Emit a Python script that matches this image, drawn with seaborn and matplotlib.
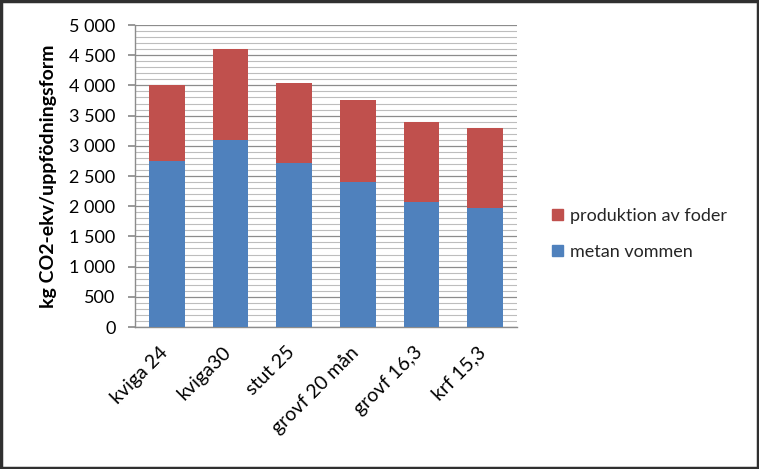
import matplotlib
matplotlib.use("Agg")
import matplotlib.pyplot as plt
import matplotlib.transforms as mtransforms
import seaborn as sns
import pandas as pd
from matplotlib.patches import Patch, Rectangle
from matplotlib.ticker import FuncFormatter, MultipleLocator

categories = ["kviga 24", "kviga30", "stut 25", "grovf 20 mån", "grovf 16,3", "krf 15,3"]
metan = [2750, 3100, 2715, 2405, 2075, 1975]
foder = [1250, 1500, 1325, 1355, 1320, 1320]
series_names = ["metan vommen", "produktion av foder"]

blue = "#4F81BD"
red = "#C0504D"

sns.set_theme(style="white")
plt.rcParams['font.family'] = ['Lato', 'DejaVu Sans']

df = pd.DataFrame({"cat": categories, "metan": metan,
                   "total": [m + f for m, f in zip(metan, foder)]})

fig = plt.figure(figsize=(7.59, 4.69), dpi=100)
ax = fig.add_axes([135/759, 1-327/469, (517-135)/759, (327-25)/469])

sns.barplot(data=df, x="cat", y="total", color=red, saturation=1, width=0.565,
            linewidth=0, edgecolor="none", ax=ax, zorder=3)
sns.barplot(data=df, x="cat", y="metan", color=blue, saturation=1, width=0.565,
            linewidth=0, edgecolor="none", ax=ax, zorder=4)

ax.set_ylim(0, 5000)
ax.set_xlim(-0.5, len(categories) - 0.5)
ax.yaxis.set_major_locator(MultipleLocator(500))
ax.yaxis.set_minor_locator(MultipleLocator(100))
ax.yaxis.set_major_formatter(FuncFormatter(lambda v, p: f"{int(v):,}".replace(",", " ")))
ax.grid(axis="y", which="major", color="#8c8c8c", linewidth=0.9, zorder=0)
ax.grid(axis="y", which="minor", color="#bdbdbd", linewidth=0.8, zorder=0)
ax.set_axisbelow(True)

for s in ["top", "right"]:
    ax.spines[s].set_visible(False)
for s in ["left", "bottom"]:
    ax.spines[s].set_color("#8c8c8c")
    ax.spines[s].set_linewidth(1)

ax.tick_params(axis="y", which="major", left=True, length=5, color="#8c8c8c", labelsize=13, pad=9, labelcolor="black")
ax.tick_params(axis="y", which="minor", left=False)
ax.tick_params(axis="x", bottom=False, labelsize=14, labelcolor="black", pad=6)
ax.set_xticks(range(len(categories)))
ax.set_xticklabels(categories, rotation=45, ha="right", rotation_mode="anchor")
offset = mtransforms.ScaledTranslation(-8/100, 0, fig.dpi_scale_trans)
for lbl in ax.get_xticklabels():
    lbl.set_transform(lbl.get_transform() + offset)
ax.set_xlabel("")
ax.set_ylabel("kg CO2-ekv/uppfödningsform", fontsize=14, fontweight="bold", color="black", labelpad=9)

handles = [Patch(color=red, label=series_names[1]), Patch(color=blue, label=series_names[0])]
fig.legend(handles=handles, loc="center left", bbox_to_anchor=(536/759, 1-234/469),
           frameon=False, fontsize=13, handlelength=0.6, handleheight=0.6,
           labelspacing=1.1, handletextpad=0.4)

fig.patches.append(Rectangle((0.0015, 0.002), 0.997, 0.996, transform=fig.transFigure,
                             fill=False, edgecolor="#303030", linewidth=2.5))

fig.savefig("out.png", dpi=100)
